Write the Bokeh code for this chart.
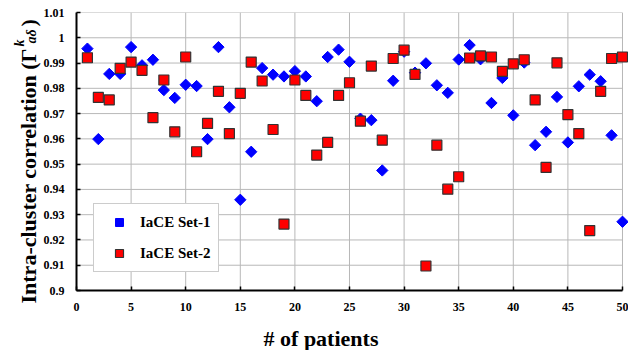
import math
from bokeh.plotting import figure
from bokeh.models import (Label, Legend, LegendItem, FixedTicker, CustomJSTickFormatter,
                          Range1d, ColumnDataSource)
from bokeh.embed import file_html
from bokeh.resources import INLINE

# ---------------- data ----------------
patients = list(range(1, 51))
set1 = [0.9957, 0.9599, 0.9857, 0.9857, 0.9963, 0.9891, 0.9913, 0.9793, 0.9762, 0.9814,
        0.9809, 0.9599, 0.9963, 0.9725, 0.9359, 0.9549, 0.9880, 0.9854, 0.9847, 0.9868,
        0.9847, 0.9749, 0.9924, 0.9953, 0.9905, 0.9680, 0.9674, 0.9475, 0.9830, 0.9945,
        0.9862, 0.9899, 0.9812, 0.9782, 0.9914, 0.9971, 0.9915, 0.9742, 0.9841, 0.9693,
        0.9902, 0.9575, 0.9628, 0.9766, 0.9586, 0.9808, 0.9854, 0.9828, 0.9614, 0.9272]
set2 = [0.9921, 0.9764, 0.9754, 0.9879, 0.9904, 0.9871, 0.9684, 0.9833, 0.9628, 0.9924,
        0.9549, 0.9661, 0.9788, 0.9621, 0.9780, 0.9904, 0.9829, 0.9637, 0.9263, 0.9833,
        0.9772, 0.9536, 0.9586, 0.9772, 0.9822, 0.9670, 0.9888, 0.9595, 0.9918, 0.9951,
        0.9855, 0.9097, 0.9575, 0.9401, 0.9450, 0.9920, 0.9928, 0.9924, 0.9867, 0.9897,
        0.9913, 0.9754, 0.9487, 0.9901, 0.9696, 0.9621, 0.9237, 0.9788, 0.9918, 0.9924]
series_names = ["IaCE Set-1", "IaCE Set-2"]
x_ticks = [0, 5, 10, 15, 20, 25, 30, 35, 40, 45, 50]
y_ticks = [0.90, 0.91, 0.92, 0.93, 0.94, 0.95, 0.96, 0.97, 0.98, 0.99, 1.00, 1.01]
x_title = "# of patients"
y_title = "Intra-cluster correlation (\u0393\u00a0\u00a0\u00a0\u00a0)"
y_sup = "k"
y_sub = "a\u03b4"

SERIF = "Liberation Serif"
W, H = 628, 350
FL, FT, FB = 76, 12, 290          # frame left / top / bottom (px)
XMIN, XMAX = 0, 50.55
YMIN, YMAX = 0.9, 1.01

src = ColumnDataSource(dict(x=patients, s1=set1, s2=set2))

p = figure(width=W, height=H, x_range=Range1d(XMIN, XMAX), y_range=Range1d(YMIN, YMAX),
           output_backend="svg", toolbar_location=None,
           min_border_left=FL, min_border_right=0, min_border_top=FT,
           min_border_bottom=H - FB)
p.outline_line_color = None
p.background_fill_color = None
p.border_fill_color = None
p.grid.visible = False

# pixel -> data helpers for labels placed in the margins
def px_x(px):
    return XMIN + (px - FL) * (XMAX - XMIN) / (W - FL)

def px_y(py):
    return YMIN + (FB - py) * (YMAX - YMIN) / (FB - FT)

# axes
for ax in (p.xaxis, p.yaxis):
    ax.axis_line_width = 2
    ax.axis_line_color = "black"
    ax.major_tick_in = 4
    ax.major_tick_out = 0
    ax.major_tick_line_width = 1.5
    ax.major_tick_line_color = "black"
    ax.minor_tick_line_color = None
    ax.major_label_text_font = SERIF
    ax.major_label_text_font_style = "bold"
    ax.major_label_text_font_size = "12px"
    ax.major_label_text_color = "black"
p.xaxis.ticker = FixedTicker(ticks=x_ticks)
p.yaxis.ticker = FixedTicker(ticks=y_ticks)
p.xaxis.bounds = (0, 50)
p.yaxis.formatter = CustomJSTickFormatter(code="return Number(tick.toFixed(2)).toString();")
p.yaxis.major_label_standoff = 12
p.xaxis.major_label_standoff = 12

# light grid at the tick positions (multi_line)
xg = [t for t in x_ticks if t > 0]
yg = [t for t in y_ticks if t > y_ticks[0]]
grid_xs = [[t, t] for t in xg] + [[x_ticks[0], x_ticks[-1]] for _ in yg]
grid_ys = [[y_ticks[0], y_ticks[-1]] for _ in xg] + [[t, t] for t in yg]
p.multi_line(xs=grid_xs, ys=grid_ys, line_color="#b8b8b8", line_width=1)

# markers
r1 = p.scatter("x", "s1", source=src, marker="square", angle=math.pi / 4, size=8,
               fill_color="#0000ff", line_color="#0000ff", line_width=1)
r2 = p.scatter("x", "s2", source=src, marker="square", size=10,
               fill_color="#ff0000", line_color="#333333", line_width=1.2)

legend = Legend(items=[LegendItem(label=series_names[0], renderers=[r1]),
                       LegendItem(label=series_names[1], renderers=[r2])],
                location=(17, 18), padding=8, spacing=11, margin=0,
                glyph_width=34, glyph_height=20, label_height=20, label_standoff=4,
                label_text_font=SERIF, label_text_font_style="bold",
                label_text_font_size="15px", label_text_color="black",
                border_line_color="#999999", border_line_width=1,
                background_fill_color="white", background_fill_alpha=1)
p.add_layout(legend)

# titles are put in side panels (not clipped to the frame), positioned in data units
p.add_layout(Label(x=px_x(320.5), y=px_y(338), text=x_title,
                   text_align="center", text_baseline="alphabetic", text_font=SERIF,
                   text_font_style="bold", text_font_size="22px", text_color="black"),
             "below")

def ylab(text, bx, sy, size, style, place):
    p.add_layout(Label(x=px_x(bx), y=px_y(sy), text=text,
                       angle=math.pi / 2, text_align="left", text_baseline="alphabetic",
                       text_font=SERIF, text_font_style=style,
                       text_font_size=size, text_color="black"), place)

ylab(y_title, 28, 303, "22px", "bold", "left")
ylab(y_sub, 31, 43, "14px", "bold italic", "left")
ylab(y_sup, 19, 46, "14px", "bold italic", "below")

open("out.html", "w").write(file_html(p, INLINE))
